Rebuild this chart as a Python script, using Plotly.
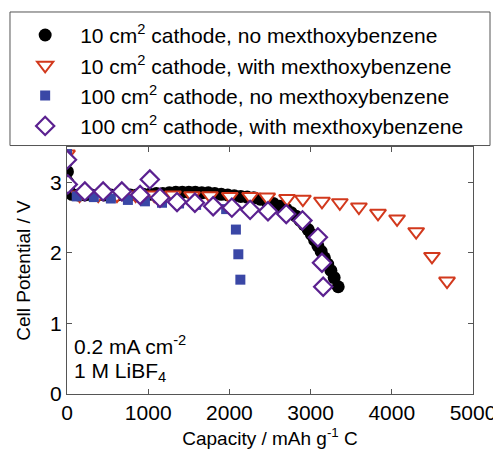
import plotly.graph_objects as go

# 10 cm2 cathode, no mexthoxybenzene
black_x = [0, 5, 10, 20, 60, 140, 220, 300, 380, 460, 540, 620, 700, 780, 860, 940,
           1020, 1100, 1180, 1260, 1340, 1420, 1500, 1580, 1660, 1740, 1820, 1900, 1980,
           2060, 2140, 2220, 2300, 2380, 2460, 2540, 2620, 2700, 2760, 2820, 2870, 2920,
           2970, 3010, 3050, 3090, 3130, 3170, 3210, 3250, 3290, 3340]
black_y = [3.30, 3.15, 3.00, 2.90, 2.83, 2.82, 2.82, 2.82, 2.82, 2.82, 2.82, 2.82, 2.82, 2.82, 2.82, 2.83,
           2.83, 2.84, 2.84, 2.85, 2.86, 2.86, 2.86, 2.86, 2.85, 2.85, 2.84, 2.83, 2.82,
           2.81, 2.80, 2.79, 2.78, 2.76, 2.73, 2.70, 2.66, 2.62, 2.57, 2.52, 2.46, 2.40,
           2.33, 2.26, 2.18, 2.10, 2.02, 1.93, 1.84, 1.75, 1.65, 1.52]

# 10 cm2 cathode, with mexthoxybenzene
red_x = [0, 155, 385, 615, 845, 1075, 1305, 1540, 1760, 2005, 2255, 2465, 2710, 2905,
         3140, 3360, 3595, 3830, 4065, 4300, 4495, 4680]
red_y = [3.40, 2.82, 2.82, 2.82, 2.82, 2.82, 2.82, 2.81, 2.81, 2.80, 2.80, 2.79, 2.77, 2.76,
         2.73, 2.71, 2.65, 2.56, 2.48, 2.30, 1.95, 1.60]

# 100 cm2 cathode, no mexthoxybenzene
blue_x = [0, 120, 330, 540, 750, 960, 1170, 1380, 1590, 1800, 1960, 2080, 2110, 2135]
blue_y = [3.40, 2.80, 2.79, 2.77, 2.75, 2.73, 2.71, 2.70, 2.68, 2.66, 2.62, 2.33, 1.98, 1.62]

# 100 cm2 cathode, with mexthoxybenzene
purple_x = [0, 10, 220, 445, 675, 900, 1020, 1145, 1355, 1575, 1800, 2030, 2255, 2475,
            2700, 2900, 3090, 3140, 3155]
purple_y = [3.32, 2.97, 2.87, 2.87, 2.87, 2.82, 3.04, 2.78, 2.72, 2.71, 2.66, 2.64, 2.61, 2.59,
            2.55, 2.46, 2.22, 1.86, 1.52]

names = [
    "10 cm<sup>2</sup> cathode, no mexthoxybenzene",
    "10 cm<sup>2</sup> cathode, with mexthoxybenzene",
    "100 cm<sup>2</sup> cathode, no mexthoxybenzene",
    "100 cm<sup>2</sup> cathode, with mexthoxybenzene",
]

FONT = "Liberation Sans, Arial, Helvetica, sans-serif"

fig = go.Figure()
fig.add_trace(go.Scatter(x=black_x, y=black_y, mode="markers", name=names[0], legendgroup="a",
                         marker=dict(symbol="circle", size=13, color="black")))
fig.add_trace(go.Scatter(x=red_x, y=red_y, mode="markers", name=names[1], legendgroup="b",
                         marker=dict(symbol="triangle-down", size=14, color="white",
                                     line=dict(color="#d2391d", width=2))))
fig.add_trace(go.Scatter(x=blue_x, y=blue_y, mode="markers", name=names[2], legendgroup="c",
                         marker=dict(symbol="square", size=10, color="#3a47a6")))
fig.add_trace(go.Scatter(x=purple_x, y=purple_y, mode="markers", name=names[3], legendgroup="d",
                         marker=dict(symbol="diamond", size=14, color="white",
                                     line=dict(color="#5b2190", width=2.2))))

axis_common = dict(showline=True, linecolor="#555555", linewidth=1, mirror="ticks",
                   ticks="inside", ticklen=5, tickcolor="#555555", showgrid=False,
                   zeroline=False, tickfont=dict(size=21, color="black", family=FONT))

fig.update_xaxes(range=[0, 5000], tickvals=[0, 1000, 2000, 3000, 4000, 5000],
                 title=dict(text="Capacity / mAh g<sup>-1</sup> C", font=dict(size=19, family=FONT),
                            standoff=8),
                 **axis_common)
fig.update_yaxes(range=[0, 3.5], tickvals=[0, 1, 2, 3],
                 title=dict(text="Cell Potential / V", font=dict(size=19, family=FONT), standoff=14),
                 **axis_common)

fig.add_annotation(xref="paper", yref="y", x=0.012, y=0.70, xanchor="left", yanchor="middle",
                   text="0.2 mA cm<sup>-2</sup>", showarrow=False,
                   font=dict(size=21, family=FONT, color="black"))
fig.add_annotation(xref="paper", yref="y", x=0.012, y=0.31, xanchor="left", yanchor="middle",
                   text="1 M LiBF<sub>4</sub>", showarrow=False,
                   font=dict(size=21, family=FONT, color="black"))

# legend frame (wider than plotly's auto-sized legend box)
fig.add_shape(type="rect", xref="paper", yref="paper", x0=-0.1404, x1=1.0419, y0=1.006, y1=1.5466,
              fillcolor="white", line=dict(color="#555555", width=1), layer="above")

# page body adds an 8 px margin; figure is sized so the plot lands where the reference has it
fig.update_layout(
    width=493, height=453,
    margin=dict(l=59, r=28, t=139, b=67, autoexpand=False),
    paper_bgcolor="white", plot_bgcolor="white",
    font=dict(family=FONT, color="black"),
    legend=dict(x=-0.14, y=1.535, xanchor="left", yanchor="top",
                bgcolor="rgba(0,0,0,0)", borderwidth=0,
                font=dict(size=21, family=FONT, color="black"),
                itemwidth=60,
                traceorder="grouped", tracegroupgap=0),
    showlegend=True,
)

fig.write_html("out.html")
